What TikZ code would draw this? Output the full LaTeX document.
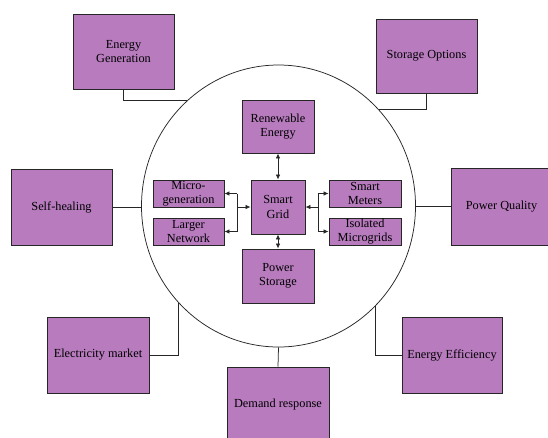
\documentclass[tikz,border=0pt]{standalone}
\usepackage{fontspec}
\setmainfont{Liberation Serif}
\usetikzlibrary{arrows.meta,shapes.geometric}
\definecolor{boxfill}{RGB}{183,123,190}
\begin{document}
\begin{tikzpicture}[x=1pt,y=-1pt,
  box/.style={draw=black!85, line width=0.9pt, fill=boxfill, align=center, inner sep=0pt,
    font=\fontsize{12.3}{14.5}\selectfont, text=black},
  link/.style={draw=black!85, line width=0.75pt},
  arr/.style={link, -{Latex[length=5pt,width=4.5pt]}},
  darr/.style={link, {Latex[length=5pt,width=4.5pt]}-{Latex[length=5pt,width=4.5pt]}}]
\useasboundingbox (0,0) rectangle (548,437);
% ring
\node[draw=black!85, line width=0.75pt, ellipse, minimum width=274pt, minimum height=282pt, inner sep=0pt] (ring) at (278.5,206) {};
% outer boxes
\node[box, minimum width=101pt, minimum height=75pt] (EG) at (123.5,51.5) {Energy\\Generation};
\node[box, minimum width=101pt, minimum height=74pt] (SO) at (426.5,56) {Storage Options};
\node[box, minimum width=101pt, minimum height=76pt] (SH) at (61.5,207) {Self-healing};
\node[box, minimum width=101pt, minimum height=77pt] (PQ) at (501.5,206.5) {Power Quality};
\node[box, minimum width=102pt, minimum height=76pt] (EM) at (98,355) {Electricity market};
\node[box, minimum width=100pt, minimum height=76pt] (EE) at (452,355) {Energy Efficiency};
\node[box, minimum width=102pt, minimum height=76pt] (DR) at (278,405) {Demand response};
% inner boxes
\node[box, minimum width=72pt, minimum height=53pt] (RE) at (278,126.5) {Renewable\\Energy};
\node[box, minimum width=54pt, minimum height=54pt] (SG) at (278,207) {Smart\\Grid};
\node[box, minimum width=72pt, minimum height=54pt] (PS) at (278,276) {Power\\Storage};
\node[box, minimum width=71pt, minimum height=27pt] (MG) at (188.5,193.5) {Micro-\\generation};
\node[box, minimum width=71pt, minimum height=27pt] (LN) at (188.5,231.5) {Larger\\Network};
\node[box, minimum width=72pt, minimum height=27pt] (SM) at (365,193.5) {Smart\\Meters};
\node[box, minimum width=72pt, minimum height=27pt] (IM) at (365,231.5) {Isolated\\Microgrids};
% outer connectors
\draw[link] (EG.south) |- (ring.131);
\draw[link] (SO.south) |- (ring.44.5);
\draw[link] (SH.east) -- (SH.east -| ring.west);
\draw[link] (PQ.west) -- (PQ.west -| ring.east);
\draw[link] (EM.east) -| (ring.224.5);
\draw[link] (EE.west) -| (ring.314.5);
\draw[link] (DR.north) -- (ring.south);
% inner connectors
\draw[darr] (RE) -- (SG);
\draw[darr] (SG) -- (PS);
\coordinate (lj) at (237,207);
\coordinate (rj) at (318,207);
\draw[arr] (lj) -- (SG.west);
\draw[arr] (rj) -- (SG.east);
\draw[link] (lj |- MG.east) -- (lj |- LN.east);
\draw[link] (rj |- SM.west) -- (rj |- IM.west);
\draw[arr] (lj |- MG.east) -- (MG.east);
\draw[arr] (lj |- LN.east) -- (LN.east);
\draw[arr] (rj |- SM.west) -- (SM.west);
\draw[arr] (rj |- IM.west) -- (IM.west);
\end{tikzpicture}
\end{document}
